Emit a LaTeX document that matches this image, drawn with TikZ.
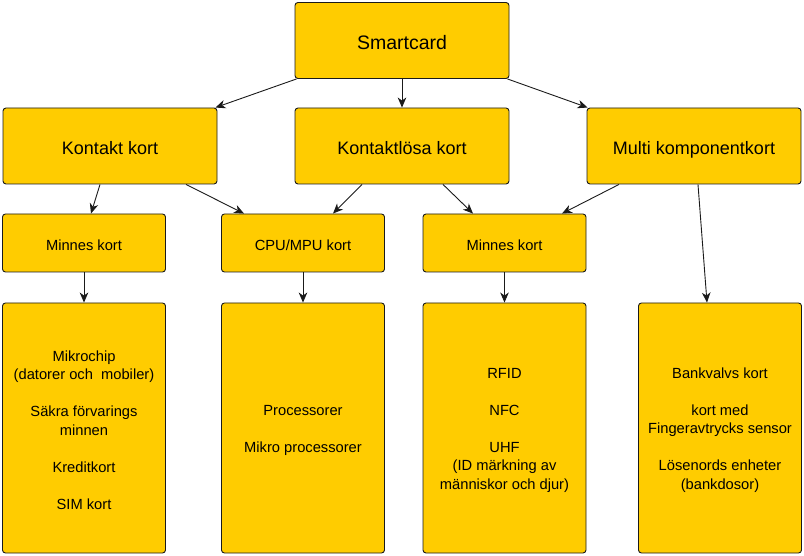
\documentclass[tikz,border=0pt]{standalone}
\usepackage{fontspec}
\setmainfont{Liberation Sans}
\usetikzlibrary{arrows.meta}
\definecolor{gold}{HTML}{FFCC00}
\definecolor{edge}{HTML}{1A1A1A}
\tikzset{
  box/.style={draw=edge, fill=gold, rounded corners=3pt, line width=0.9pt, inner sep=0pt},
  lvlA/.style={box, minimum width=214pt, minimum height=76pt},
  lvlB/.style={box, minimum width=214pt, minimum height=76pt},
  lvlC/.style={box, minimum width=163pt, minimum height=58pt},
  lvlD/.style={box, minimum width=163pt, minimum height=250pt},
  txt/.style={inner sep=0pt, align=center, yshift=-2pt},
  txtA/.style={txt, font=\fontsize{19.5}{23}\selectfont},
  txtB/.style={txt, font=\fontsize{18}{22}\selectfont, text depth=0pt},
  txtC/.style={txt, font=\fontsize{14.7}{18.5}\selectfont},
  arr/.style={draw=edge, line width=0.9pt, -{Stealth[length=10pt,width=8.5pt,inset=3pt]}}
}
\begin{document}
\begin{tikzpicture}[x=1pt,y=-1pt]
\useasboundingbox (0,0) rectangle (804,556);
\node[lvlA, label={[txtA]center:{Smartcard}}] (smart) at (402,40.5) {};
\node[lvlB, label={[txtB]center:{Kontakt kort}}] (kontakt) at (110,146) {};
\node[lvlB, label={[txtB]center:{Kontaktlösa kort}}] (klos) at (402,146) {};
\node[lvlB, label={[txtB]center:{Multi komponentkort}}] (multi) at (694,146) {};
\node[lvlC, label={[txtC]center:{Minnes kort}}] (minL) at (84,243) {};
\node[lvlC, label={[txtC]center:{CPU/MPU kort}}] (cpu) at (303,243) {};
\node[lvlC, label={[txtC]center:{Minnes kort}}] (minR) at (504.5,243) {};
\node[lvlD, label={[txtC]center:{Mikrochip\\(datorer och\ \ mobiler)\\[18.5pt]Säkra förvarings\\minnen\\[18.5pt]Kreditkort\\[18.5pt]SIM kort}}] (big1) at (84,428) {};
\node[lvlD, label={[txtC]center:{Processorer\\[18.5pt]Mikro processorer}}] (big2) at (303,428) {};
\node[lvlD, label={[txtC]center:{RFID\\[18.5pt]NFC\\[18.5pt]UHF\\(ID märkning av\\människor och djur)}}] (big3) at (504.5,428) {};
\node[lvlD, label={[txtC]center:{Bankvalvs kort\\[18.5pt]kort med\\Fingeravtrycks sensor\\[18.5pt]Lösenords enheter\\(bankdosor)}}] (big4) at (720,428) {};
\draw[arr] ([xshift=2pt]smart.south west) -- ([xshift=-2pt]kontakt.north east);
\draw[arr] (smart.south) -- (klos.north);
\draw[arr] ([xshift=-2pt]smart.south east) -- ([xshift=1pt]multi.north west);
\draw[arr] ([xshift=-10pt]kontakt.south) -- ([xshift=7pt]minL.north);
\draw[arr] ([xshift=76pt]kontakt.south) -- ([xshift=-59pt]cpu.north);
\draw[arr] ([xshift=-40pt]klos.south) -- ([xshift=30pt]cpu.north);
\draw[arr] ([xshift=41pt]klos.south) -- ([xshift=-31.5pt]minR.north);
\draw[arr] ([xshift=-75pt]multi.south) -- ([xshift=57.5pt]minR.north);
\draw[arr] ([xshift=4pt]multi.south) -- ([xshift=-13pt]big4.north);
\draw[arr] (minL.south) -- (big1.north);
\draw[arr] (cpu.south) -- (big2.north);
\draw[arr] (minR.south) -- (big3.north);
\end{tikzpicture}
\end{document}
